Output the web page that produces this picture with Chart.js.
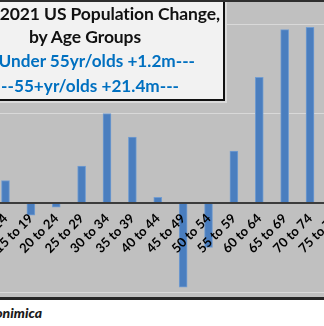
<!DOCTYPE html>
<html>
<head>
<meta charset="utf-8">
<script src="https://cdn.jsdelivr.net/npm/chart.js@4.4.1/dist/chart.umd.min.js"></script>
<style>
  html, body { margin: 0; padding: 0; background: #fff; overflow: hidden; width: 324px; height: 326px; }
  #wrap { position: absolute; left: 0; top: 0; width: 324px; height: 295px; background: #c0c0c0;
          border-top: 2px solid #2e2e2e; border-bottom: 3px solid #262626; overflow: hidden; }
  #c { position: absolute; left: -20px; top: 0; }
  #box { position: absolute; left: -10px; top: -2px; width: 235px; height: 101px; box-sizing: border-box;
         background: #f2f2f2; border: 2px solid #111; box-shadow: 2px 2px 0 0 #dadada; }
  .t { position: absolute; white-space: nowrap; font-family: Lato, sans-serif; font-weight: bold; line-height: 1.2; }
  .t span { display: inline-block; transform: translateX(-100%); }
  .h { font-size: 17.5px; letter-spacing: -0.1px; color: #111; text-decoration: underline; text-decoration-thickness: 2px; }
  .b { font-size: 17.2px; color: #0070c0; }
  #src { position: absolute; left: 42px; top: 304px; font-family: Lato, sans-serif; font-weight: 900;
         font-style: italic; font-size: 14px; color: #1a1a1a; white-space: nowrap; }
  #src span { display: inline-block; transform: translateX(-100%); }
</style>
</head>
<body>
<div id="wrap">
  <canvas id="c" width="380" height="295"></canvas>
  <div id="box"></div>
</div>
<div class="t h" style="left:220px; top:3px;"><span>2021 US Population Change,</span></div>
<div class="t h" style="left:85px; top:26px;"><span style="transform:translateX(-50%)">by Age Groups</span></div>
<div class="t b" style="left:195px; top:51px;"><span>Under 55yr/olds +1.2m---</span></div>
<div class="t b" style="left:179px; top:76px;"><span>--55+yr/olds +21.4m---</span></div>
<div id="src"><span>Econimica</span></div>
<script>
const ageGroups = ['10 to 14', '15 to 19', '20 to 24', '25 to 29', '30 to 34', '35 to 39', '40 to 44',
                   '45 to 49', '50 to 54', '55 to 59', '60 to 64', '65 to 69', '70 to 74', '75 to 79'];
// change in millions (75 to 79 is outside the picture)
const popChange = [0.50, -0.28, -0.10, 0.82, 2.00, 1.47, 0.12, -1.89, -1.00, 1.16, 2.81, 3.88, 3.93, null];
const yMin = -2;
const yMax = 4.5;
const yStep = 2;

const ctx = document.getElementById('c').getContext('2d');
const chart = new Chart(ctx, {
    type: 'bar',
    data: {
        labels: ageGroups,
        datasets: [{
            label: 'Population change',
            data: popChange,
            backgroundColor: '#4a7ebf',
            borderColor: '#739dd0',
            borderWidth: 1,
            barThickness: 8
        }]
    },
    options: {
        responsive: false,
        animation: false,
        layout: { padding: { left: 12.8, right: 11.9, top: 0, bottom: 5 } },
        plugins: { legend: { display: false }, tooltip: { enabled: false } },
        scales: {
            x: {
                position: { y: 0 },
                grid: { display: false, drawTicks: false },
                border: { color: '#3c3c3c', width: 2, z: 1 },
                ticks: {
                    z: 1,
                    color: '#000',
                    autoSkip: false,
                    minRotation: 45,
                    maxRotation: 45,
                    padding: 8,
                    font: { family: 'Lato', weight: 'bold', size: 13 }
                },
                afterFit: (s) => { s.paddingLeft = 0; s.paddingRight = 0; }
            },
            y: {
                min: yMin,
                max: yMax,
                grid: { color: '#d9d9d9', lineWidth: 1, drawTicks: false },
                border: { display: false },
                ticks: { display: false, stepSize: yStep },
                afterBuildTicks: (s) => { s.ticks = s.ticks.filter(t => t.value % yStep === 0); }
            }
        }
    }
});
</script>
</body>
</html>
